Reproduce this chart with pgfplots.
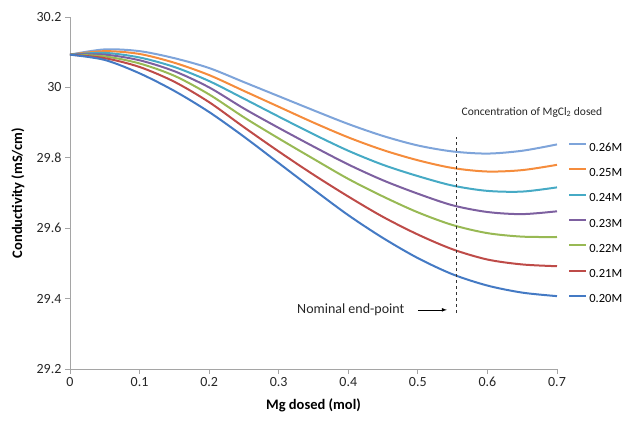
\documentclass[border=0pt]{standalone}
\usepackage{pgfplots}
\pgfplotsset{compat=1.18}
\usepackage{pgfplotstable}
\usepackage{fontspec}
\setmainfont{Carlito}

\definecolor{cA}{RGB}{126,164,218}
\definecolor{cB}{RGB}{245,140,60}
\definecolor{cC}{RGB}{70,170,197}
\definecolor{cD}{RGB}{125,96,160}
\definecolor{cE}{RGB}{152,185,84}
\definecolor{cF}{RGB}{190,75,72}
\definecolor{cG}{RGB}{68,122,196}
\definecolor{axgray}{RGB}{165,165,165}

\pgfplotstableread{
x     A      B      C      D      E      F      G
0     30.093 30.093 30.093 30.093 30.093 30.093 30.093
0.05  30.108 30.103 30.098 30.093 30.088 30.083 30.078
0.10  30.103 30.095 30.085 30.077 30.068 30.058 30.040
0.15  30.083 30.070 30.058 30.046 30.033 30.016 29.990
0.20  30.055 30.035 30.018 30.000 29.980 29.958 29.930
0.25  30.015 29.990 29.968 29.940 29.915 29.887 29.860
0.30  29.975 29.945 29.917 29.885 29.855 29.818 29.785
0.35  29.935 29.900 29.867 29.832 29.797 29.752 29.710
0.40  29.896 29.858 29.820 29.781 29.740 29.690 29.637
0.45  29.862 29.822 29.780 29.736 29.690 29.632 29.572
0.50  29.835 29.793 29.748 29.698 29.645 29.582 29.515
0.55  29.818 29.771 29.721 29.665 29.609 29.540 29.469
0.60  29.812 29.761 29.706 29.646 29.586 29.511 29.437
0.65  29.820 29.765 29.704 29.640 29.576 29.497 29.417
0.70  29.838 29.780 29.716 29.648 29.575 29.492 29.407
}\datatable

\begin{document}
\begin{tikzpicture}
\path[use as bounding box] (0,0) rectangle (622pt,423pt);
\begin{axis}[
  at={(70pt,54pt)}, anchor=south west,
  width=487pt, height=352pt, scale only axis,
  xmin=0, xmax=0.7, ymin=29.2, ymax=30.2,
  xtick={0,0.1,0.2,0.3,0.4,0.5,0.6,0.7},
  ytick={29.2,29.4,29.6,29.8,30,30.2},
  axis x line*=bottom, axis y line*=left,
  axis line style={axgray, line width=0.8pt},
  tick style={axgray, line width=0.8pt},
  tick align=outside, major tick length=5pt,
  /pgf/number format/.cd, fixed, precision=1, assume math mode=true, /pgfplots/.cd,
  ticklabel style={font=\fontsize{14}{16}\selectfont, text=black!85},
  xlabel={\textbf{Mg dosed (mol)}},
  ylabel={\textbf{Conductivity (mS/cm)}},
  xlabel style={at={(axis description cs:0.5,-0.102)}, anchor=center, font=\fontsize{14.5}{16}\selectfont},
  ylabel style={at={(axis description cs:-0.107,0.5)}, anchor=center, font=\fontsize{14.5}{16}\selectfont},
  clip=false,
  legend style={draw=none, fill=none, at={(axis description cs:1.023,0.645)}, anchor=north west,
    inner sep=0pt, row sep=14.3pt, column sep=2pt,
    nodes={inner sep=0pt, text height=9pt, text depth=2pt},
    font=\fontsize{12.5}{14}\selectfont},
  legend cell align=left,
  legend image code/.code={\draw[#1, line width=2pt] (0pt,3.5pt) -- (17pt,3.5pt);},
  every axis plot/.append style={line width=2pt, smooth, no markers},
]
\addplot[cA] table[x=x,y=A]{\datatable};
\addlegendentry{0.26M}
\addplot[cB] table[x=x,y=B]{\datatable};
\addlegendentry{0.25M}
\addplot[cC] table[x=x,y=C]{\datatable};
\addlegendentry{0.24M}
\addplot[cD] table[x=x,y=D]{\datatable};
\addlegendentry{0.23M}
\addplot[cE] table[x=x,y=E]{\datatable};
\addlegendentry{0.22M}
\addplot[cF] table[x=x,y=F]{\datatable};
\addlegendentry{0.21M}
\addplot[cG] table[x=x,y=G]{\datatable};
\addlegendentry{0.20M}
\addplot[black!80, dashed, line width=0.8pt, forget plot, sharp plot] coordinates {(0.556,29.359) (0.556,29.859)};
\draw[-latex, black, line width=0.7pt] (axis cs:0.5,29.368) -- (axis cs:0.5417,29.368);
\node[anchor=east, font=\fontsize{14}{16}\selectfont, text=black!85] at (axis cs:0.4856,29.368) {Nominal end-point};
\node[anchor=center, font=\fontsize{11.5}{13}\selectfont, text=black!85] at (axis cs:0.664,29.930) {Concentration of MgCl\textsubscript{2} dosed};
\end{axis}
\end{tikzpicture}
\end{document}
